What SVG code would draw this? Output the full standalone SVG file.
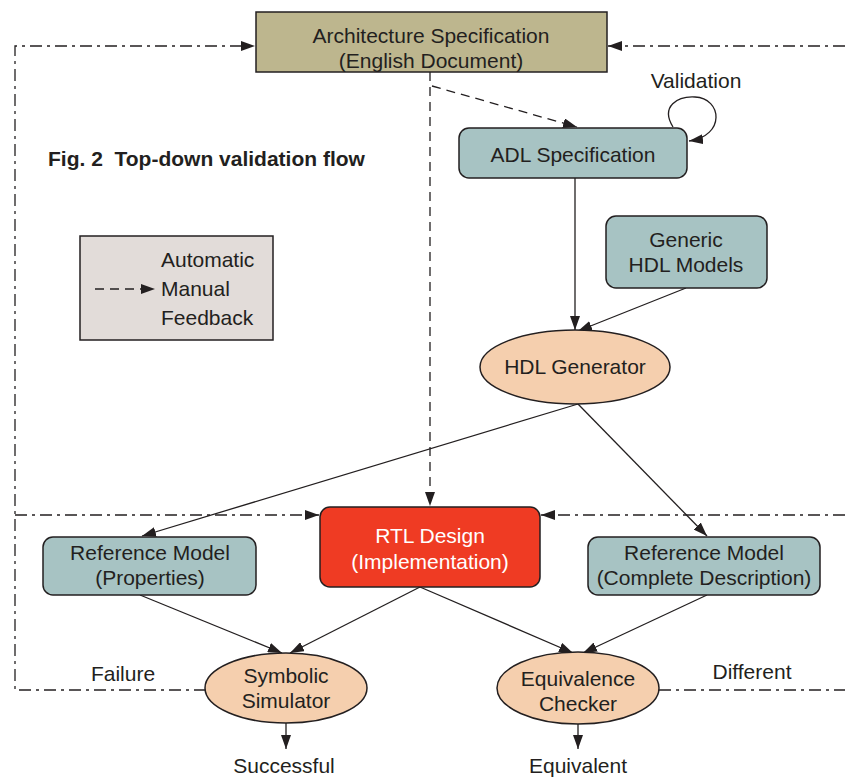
<svg xmlns="http://www.w3.org/2000/svg" width="845" height="777" viewBox="0 0 845 777">
<style>
text{font-family:"Liberation Sans",Arial,sans-serif;font-size:21px;fill:#231f20;text-anchor:middle}
.box{stroke:#231f20;stroke-width:1.5}
.ln{stroke:#231f20;stroke-width:1.3;fill:none}
.dash{stroke-dasharray:9 6}
.dd{stroke-dasharray:12 5 3 5}
</style>
<defs>
<marker id="ah" viewBox="0 0 14 10" refX="14" refY="5" markerWidth="14" markerHeight="10" markerUnits="userSpaceOnUse" orient="auto">
<path d="M0,0 L14,5 L0,10 Z" fill="#231f20"/>
</marker>
</defs>
<rect width="845" height="777" fill="#ffffff"/>
<text x="48" y="166" xml:space="preserve" style="font-weight:bold;font-size:21px;text-anchor:start">Fig. 2  Top-down validation flow</text>
<g id="legend">
<rect x="80" y="236" width="193" height="104" fill="#e2dcd9" class="box"/>
<text x="161" y="267" style="text-anchor:start">Automatic</text>
<text x="161" y="296" style="text-anchor:start">Manual</text>
<text x="161" y="325" style="text-anchor:start">Feedback</text>
<line x1="95" y1="289" x2="155" y2="289" class="ln dash" marker-end="url(#ah)"/>
</g>
<g id="connectors">
<polyline points="206,690 15,690 15,46 255,46" class="ln dd" marker-end="url(#ah)"/>
<line x1="845" y1="46" x2="608" y2="46" class="ln dd" marker-end="url(#ah)"/>
<line x1="15" y1="515" x2="319" y2="515" class="ln dd" marker-end="url(#ah)"/>
<line x1="845" y1="515" x2="541" y2="515" class="ln dd" marker-end="url(#ah)"/>
<line x1="659" y1="690" x2="845" y2="690" class="ln dd"/>
<line x1="430" y1="72" x2="430" y2="506" class="ln dash" marker-end="url(#ah)"/>
<line x1="432" y1="86" x2="577" y2="127" class="ln dash" marker-end="url(#ah)"/>
<path d="M673,127 C660,106 678,96 695,97 C722,98 726,136 689,141" class="ln" marker-end="url(#ah)"/>
<line x1="575" y1="178" x2="575" y2="330" class="ln" marker-end="url(#ah)"/>
<line x1="686" y1="288" x2="578" y2="331" class="ln" marker-end="url(#ah)"/>
<line x1="578" y1="404" x2="142" y2="536" class="ln" marker-end="url(#ah)"/>
<line x1="578" y1="404" x2="707" y2="536" class="ln" marker-end="url(#ah)"/>
<line x1="140" y1="595" x2="282" y2="653" class="ln" marker-end="url(#ah)"/>
<line x1="420" y1="587" x2="290" y2="653" class="ln" marker-end="url(#ah)"/>
<line x1="420" y1="587" x2="573" y2="653" class="ln" marker-end="url(#ah)"/>
<line x1="707" y1="595" x2="583" y2="653" class="ln" marker-end="url(#ah)"/>
<line x1="286" y1="723" x2="286" y2="749" class="ln" marker-end="url(#ah)"/>
<line x1="578" y1="724" x2="578" y2="749" class="ln" marker-end="url(#ah)"/>
</g>
<g id="arch">
<rect x="256" y="12" width="351" height="60" fill="#bdb68e" class="box"/>
<text x="431" y="43">Architecture Specification</text>
<text x="431" y="68">(English Document)</text>
</g>
<text x="696" y="88">Validation</text>
<g id="adl">
<rect x="459" y="128" width="228" height="50" rx="10" fill="#a7c3c3" class="box"/>
<text x="573" y="162">ADL Specification</text>
</g>
<g id="generic">
<rect x="606" y="216" width="161" height="72" rx="10" fill="#a7c3c3" class="box"/>
<text x="686" y="247">Generic</text>
<text x="686" y="272">HDL Models</text>
</g>
<g id="hdlgen">
<ellipse cx="575" cy="367" rx="95" ry="37" fill="#f5cfae" class="box"/>
<text x="575" y="374">HDL Generator</text>
</g>
<g id="refprops">
<rect x="43" y="537" width="213" height="58" rx="10" fill="#a7c3c3" class="box"/>
<text x="150" y="560">Reference Model</text>
<text x="150" y="585">(Properties)</text>
</g>
<g id="rtl">
<rect x="320" y="507" width="220" height="80" rx="10" fill="#ef3b23" class="box"/>
<text x="430" y="543" style="fill:#ffffff">RTL Design</text>
<text x="430" y="569" style="fill:#ffffff">(Implementation)</text>
</g>
<g id="refcomplete">
<rect x="588" y="537" width="232" height="58" rx="10" fill="#a7c3c3" class="box"/>
<text x="704" y="560">Reference Model</text>
<text x="704" y="585">(Complete Description)</text>
</g>
<g id="symsim">
<ellipse cx="286" cy="688" rx="81" ry="35" fill="#f5cfae" class="box"/>
<text x="286" y="683">Symbolic</text>
<text x="286" y="708">Simulator</text>
</g>
<g id="eqcheck">
<ellipse cx="578" cy="688" rx="81" ry="36" fill="#f5cfae" class="box"/>
<text x="578" y="686">Equivalence</text>
<text x="578" y="711">Checker</text>
</g>
<text x="123" y="681">Failure</text>
<text x="752" y="679">Different</text>
<text x="284" y="773">Successful</text>
<text x="578" y="773">Equivalent</text>
</svg>
